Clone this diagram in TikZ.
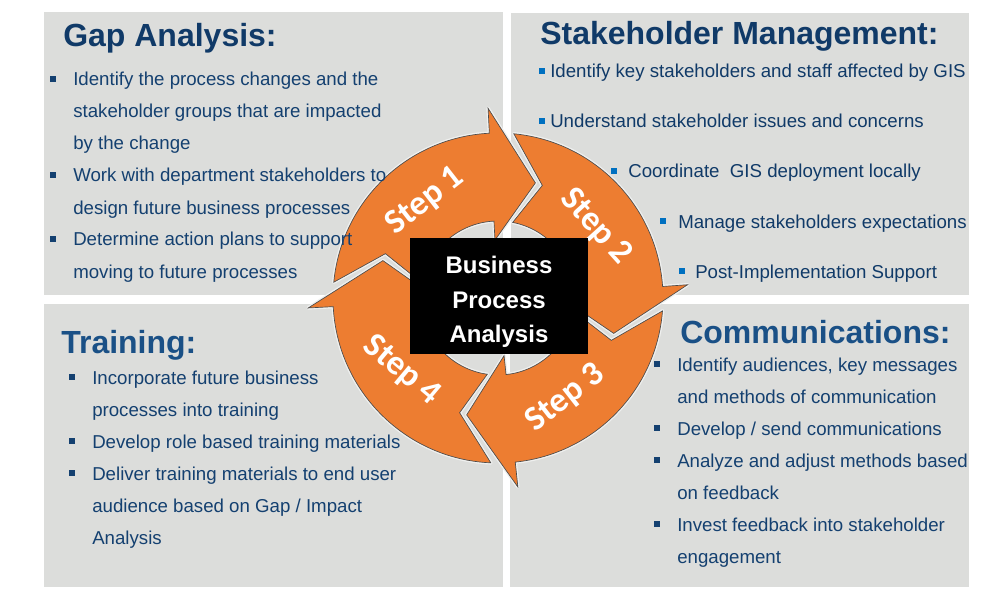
\documentclass[tikz,border=0pt]{standalone}
\usepackage{fontspec}
\setmainfont{Liberation Sans}
\newfontfamily\stepfont{Carlito}
\usetikzlibrary{positioning,calc}

\definecolor{panelgray}{RGB}{220,221,219}
\definecolor{navy}{RGB}{16,58,104}
\definecolor{navylight}{RGB}{26,80,134}
\definecolor{bodyblue}{RGB}{20,64,112}
\definecolor{brightblue}{RGB}{0,112,192}
\definecolor{stepfill}{RGB}{237,125,49}

\begin{document}
\begin{tikzpicture}[x=0.75pt, y=0.75pt,
    panel/.style={fill=panelgray},
    head/.style={anchor=base west, inner sep=0pt, font=\fontsize{24}{28}\selectfont\bfseries},
    item/.style={anchor=base west, inner sep=0pt, text=bodyblue, font=\fontsize{14}{17}\selectfont},
    bul/.style={fill=#1, inner sep=0pt, minimum size=4.2pt},
    bul/.default=bodyblue,
    stephalo/.style={draw=white!55!panelgray, line width=2.6pt, line join=round},
    steparrow/.style={fill=stepfill, draw=black!70, line width=0.5pt},
    steplabel/.style={text=white, font=\stepfont\fontsize{26}{30}\selectfont\bfseries},
    core/.style={fill=black, inner sep=0pt, minimum width=133.5pt, minimum height=87pt},
    coretext/.style={align=center, inner sep=0pt, text=white, font=\fontsize{18}{26}\selectfont\bfseries}
]
\useasboundingbox (0,0) rectangle (1000,601);

% the four quadrants
\fill[panel] (44,306) rectangle (503,589);
\fill[panel] (511,306) rectangle (969,588);
\fill[panel] (44,14) rectangle (503,297);
\fill[panel] (510,14) rectangle (969,297);

% cycle of steps
\begin{scope}[shift={(498,303)}]
\foreach \tip/\tail in {72/162, -17/72, -105/-17, 162/255}
    \draw[stephalo] ({\tail+12.5}:165) arc[start angle=\tail+12.5, end angle=\tip+21, radius=165]
        -- ({\tip+21}:190) -- (\tip:121) -- ({\tip+21}:58) -- ({\tip+21}:77)
        arc[start angle=\tip+21, end angle=\tail+7, radius=77]
        -- ({\tail-3.5}:121) -- cycle;
\foreach \tip/\tail in {72/162, -17/72, -105/-17, 162/255}
    \draw[steparrow] ({\tail+12.5}:165) arc[start angle=\tail+12.5, end angle=\tip+21, radius=165]
        -- ({\tip+21}:190) -- (\tip:121) -- ({\tip+21}:58) -- ({\tip+21}:77)
        arc[start angle=\tip+21, end angle=\tail+7, radius=77]
        -- ({\tail-3.5}:121) -- cycle;
\foreach \a/\rot/\n in {127/38/1, 36/-48/2, -56/38/3, 217/-40/4}
    \node[steplabel, rotate=\rot] (step\n) at (\a:121) {Step \n};
\end{scope}

\node[core] (bpa) at (499,305) {};
\node[coretext] (bpatext) at ([yshift=-4.5pt]bpa.center) {Business\\Process\\Analysis};

% Gap Analysis
\node[head, text=navy] (gaptitle) at (63,554) {Gap Analysis:};
\foreach \t [count=\n from 0] in {Identify the process changes and the, stakeholder groups that are impacted,
    by the change, Work with department stakeholders to, design future business processes,
    Determine action plans to support, moving to future processes}
    \node[item] (gap\n) at (73,{515-32*\n}) {\t};
\foreach \n in {0,3,5}
    \node[bul] (gapb\n) at ($(gap\n.base west)+(-20,7)$) {};

% Stakeholder Management
\node[head, text=navy] (shtitle) at (540,556) {Stakeholder Management:};
\foreach \x/\y/\d/\t [count=\n] in {550/523/8/{Identify key stakeholders and staff affected by GIS},
    550/473/8/{Understand stakeholder issues and concerns}, 628/423/14/{Coordinate\ \ GIS deployment locally},
    678/373/15/{Manage stakeholders expectations}, 695/323/13/{Post-Implementation Support}}
{
    \node[item, text=navy] (sh\n) at (\x,\y) {\t};
    \node[bul=brightblue, minimum size=4.8pt] (shb\n) at ($(sh\n.base west)+(-\d,7)$) {};
}

% Training
\node[head, text=navylight] (trtitle) at (61,248) {Training:};
\foreach \t [count=\n from 0] in {Incorporate future business, processes into training,
    Develop role based training materials, Deliver training materials to end user,
    {audience based on Gap / Impact}, Analysis}
    \node[item] (tr\n) at (92,{217-32*\n}) {\t};
\foreach \n in {0,2,3}
    \node[bul] (trb\n) at ($(tr\n.base west)+(-20,7)$) {};

% Communications
\node[head, text=navylight] (comtitle) at (680,258) {Communications:};
\foreach \t [count=\n from 0] in {{Identify audiences, key messages}, and methods of communication,
    {Develop / send communications}, Analyze and adjust methods based, on feedback,
    Invest feedback into stakeholder, engagement}
    \node[item] (com\n) at (677,{230-32*\n}) {\t};
\foreach \n in {0,2,3,5}
    \node[bul] (comb\n) at ($(com\n.base west)+(-20,7)$) {};
\end{tikzpicture}
\end{document}
